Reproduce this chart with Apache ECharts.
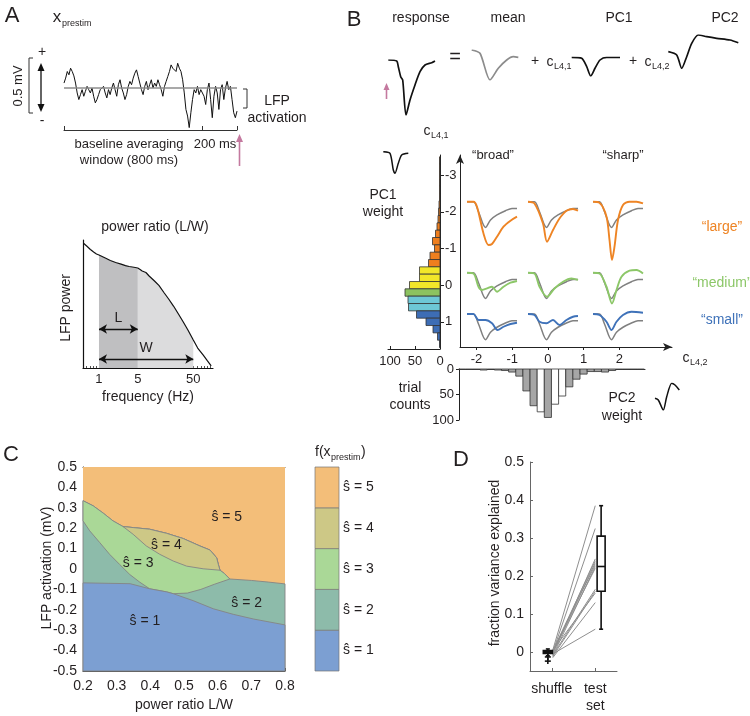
<!DOCTYPE html>
<html>
<head>
<meta charset="utf-8">
<script src="https://cdn.jsdelivr.net/npm/echarts@6/dist/echarts.min.js"></script>
<style>html,body{margin:0;padding:0;background:#fff;}#chart{width:750px;height:716px;}</style>
</head>
<body>
<div id="chart"></div>
<script>
// ================= DATA =================
// Panel A: prestimulus LFP trace (mV relative to baseline), 1000 ms window
const traceMv = [0.045,0.09,0.15,0.12,0.18,0.15,0.11,0.045,-0.045,-0.105,-0.06,-0.015,-0.075,-0.03,
0.015,-0.015,-0.045,0,-0.075,-0.135,-0.105,-0.06,-0.015,-0.03,0.015,-0.045,-0.09,-0.015,
-0.06,0,0.045,-0.015,-0.075,0.03,0.075,0,-0.045,-0.105,-0.06,0.015,0.06,0.03,
0.09,0.135,0.165,0.105,0.045,-0.015,-0.06,0.015,0.06,-0.015,0.03,0.075,0,0.045,
0.015,0.075,0.03,-0.015,-0.075,0.015,0.06,0.105,0.15,0.21,0.18,0.195,0.15,0.225,
0.18,0.15,0.075,-0.045,-0.195,-0.255,-0.36,-0.225,-0.105,-0.015,-0.045,0.015,-0.06,-0.015,
0,-0.075,-0.15,-0.015,0.045,-0.105,-0.27,-0.075,0.015,-0.045,-0.195,-0.015,0.03,-0.105,0,0.06,-0.015,0.015,-0.105,-0.225,-0.27,-0.21];
const traceDurationMs = 1000;
const traceBracketMs = [0, 800, 1000];

// Panel A: LFP power spectrum
const specFreqHz = [0.52,0.6,0.7,0.8,0.9,1,1.3,1.6,2,2.5,3,3.5,4,4.5,5,5.5,6,7,8,10,12,15,18,22,27,33,40,50,60,75,90,105];
const specPower  = [0.977,0.953,0.926,0.906,0.891,0.883,0.859,0.84,0.824,0.812,0.80,0.793,0.789,0.785,0.781,0.770,0.758,0.746,0.719,0.680,0.645,0.586,0.539,0.484,0.422,0.359,0.297,0.219,0.156,0.102,0.055,0.016];
const bandL = [1, 5];
const bandW = [1, 50];
const specTickHz = [1, 5, 50];
const specMinorHz = [0.6,0.7,0.8,0.9,1,2,3,4,5,6,7,8,9,10,20,30,40,50,60,70,80,90,100];

// Panel B: waveforms (time, amplitude)
const respT = [0,8.4,10,12.4,14.4,17.7,21.7,26.7,31.7,36.7,43.4,46.7];
const respV = [0,-1,-6.7,-16.7,-20,-55,-40,-25,-11.7,-5,-2.7,-1];
const meanT = [0,8.3,18.3,26.6,35,41.6,46.6];
const meanV = [0,-3.3,-30,-18.3,-10,-6.7,-7.3];
const pc1T = [0,10,15,19,23.3,28.3,35,48.3];
const pc1V = [0,-1,-9.4,-18.7,-11,-2.7,0,0];
const pc2T = [0,8.4,13.4,18.4,23.4,30,38.4,48.4,61.7,70];
const pc2V = [0,-3.3,-16.6,-5,8.4,16.7,15,13.4,11.7,9];
const pc1IconT = [0,6.7,10,11.7,15,18.4,25];
const pc1IconV = [0,-1.6,-18.3,-21.6,-11.6,-3.3,-1.6];
const pc2IconT = [0,3.3,8.3,11.7,16.7,20,24.3];
const pc2IconV = [0,-1.7,-11.7,1.6,15,13.3,8.3];

// Panel B: PC1 weight histogram (c_L4,1)
const pc1Centers = [-3.4,-3.2,-3.0,-2.8,-2.6,-2.4,-2.2,-2.0,-1.8,-1.6,-1.4,-1.2,-1.0,-0.8,-0.6,-0.4,-0.2,0,0.2,0.4,0.6,0.8,1.0,1.2,1.4,1.6];
const pc1Counts  = [1,1,1,1,1,1,2,3,4,6,9,15,11,20,23,41,41,61,70,64,63,47,28,14,5,1];
const pc1Group   = [5,5,5,5,5,5,5,5,5,5,5,5,5,5,5,4,4,4,3,2,2,1,1,1,1,1];
const binWidth = 0.2;
// Panel B: PC2 weight histogram (c_L4,2)
const pc2Centers = [-2.4,-2.2,-2.0,-1.8,-1.6,-1.4,-1.2,-1.0,-0.8,-0.6,-0.4,-0.2,0,0.2,0.4,0.6,0.8,1.0,1.2,1.4,1.6,1.8,2.0,2.2,2.4,2.6];
const pc2Counts  = [1,1,1,2,1,2,3,6,14,43,72,84,95,69,53,35,20,10,5,5,6,3,1,1,1,1];
const pc2Open    = [0,0,0,0,0,0,0,0,0,0,0,1,0,1,1,0,0,0,0,0,0,0,0,0,0,0];
const axisTicksB = [-2,-1,0,1,2];
const axisTicksB1 = [-3,-2,-1,0,1];
const countTicks = [0,50,100];

// Panel B: example responses (t normalized 0..1, amplitude in units of mean peak)
const meanShape = [[0,0],[0.13,0],[0.23,-0.4],[0.37,-1.03],[0.47,-0.73],[0.6,-0.53],[0.77,-0.36],[0.9,-0.27],[1,-0.27]];
const largeRow  = [
  [[0,0],[0.13,0],[0.2,-0.2],[0.33,-1.27],[0.43,-1.73],[0.5,-1.69],[0.6,-1.4],[0.73,-1.0],[0.87,-0.76],[1,-0.6]],
  [[0,0],[0.13,-0.07],[0.3,-0.87],[0.38,-1.6],[0.5,-1.13],[0.63,-0.67],[0.77,-0.36],[0.9,-0.29],[1,-0.36]],
  [[0,0],[0.13,-0.04],[0.27,-0.6],[0.33,-1.53],[0.38,-2.33],[0.43,-1.8],[0.5,-0.73],[0.6,-0.13],[0.73,0],[0.87,0],[1,-0.07]]];
const mediumRow = [
  [[0,0],[0.13,-0.03],[0.23,-0.56],[0.3,-0.69],[0.4,-0.63],[0.5,-0.56],[0.6,-0.76],[0.73,-0.56],[0.87,-0.4],[1,-0.33]],
  [[0,0],[0.13,-0.03],[0.23,-0.56],[0.38,-0.96],[0.53,-0.63],[0.7,-0.36],[0.87,-0.23],[1,-0.29]],
  [[0,0],[0.13,-0.03],[0.27,-0.56],[0.38,-1.23],[0.47,-0.69],[0.57,-0.16],[0.73,0.08],[0.87,0.11],[1,-0.03]]];
const smallRow  = [
  [[0,0],[0.13,0],[0.23,-0.24],[0.37,-0.24],[0.5,-0.37],[0.61,-0.64],[0.73,-0.51],[0.87,-0.4],[1,-0.35]],
  [[0,0],[0.13,-0.04],[0.23,-0.31],[0.37,-0.37],[0.5,-0.24],[0.63,-0.44],[0.77,-0.24],[0.9,-0.11],[1,-0.08]],
  [[0,0],[0.13,-0.04],[0.27,-0.31],[0.37,-0.64],[0.47,-0.31],[0.6,-0.04],[0.77,0.09],[1,0.05]]];

// Panel C: decision regions (power ratio L/W, LFP activation mV)
const cTopLeft   = [[0.2,0.335],[0.23,0.31],[0.26,0.274],[0.289,0.236],[0.319,0.208]];
const cS4Top     = [[0.319,0.208],[0.349,0.203],[0.398,0.195],[0.448,0.175],[0.498,0.149],[0.547,0.113],[0.577,0.093],[0.597,0.055],[0.602,0.022],[0.607,-0.006]];
const cS4Bottom  = [[0.319,0.208],[0.349,0.17],[0.388,0.113],[0.428,0.072],[0.468,0.039],[0.508,0.014],[0.557,0.001],[0.607,-0.006]];
const cS3Tip     = [[0.607,-0.006],[0.62,-0.022],[0.636,-0.049]];
const cS2RightTop= [[0.636,-0.049],[0.7,-0.056],[0.75,-0.064],[0.8,-0.073]];
const cS32Right  = [[0.636,-0.049],[0.59,-0.075],[0.55,-0.1],[0.51,-0.118],[0.468,-0.121]];
const cS1Top     = [[0.2,-0.068],[0.34,-0.072],[0.398,-0.097],[0.448,-0.112],[0.468,-0.121],[0.527,-0.155],[0.587,-0.195],[0.646,-0.222],[0.706,-0.245],[0.8,-0.274]];
const cS32Left   = [[0.2,0.236],[0.22,0.187],[0.25,0.129],[0.279,0.072],[0.309,0.022],[0.339,-0.027],[0.369,-0.065],[0.398,-0.097]];
const cLabels = ['ŝ = 5','ŝ = 4','ŝ = 3','ŝ = 2','ŝ = 1'];
const cLabelX = [0.627,0.448,0.364,0.686,0.384];
const cLabelY = [0.253,0.116,0.027,-0.167,-0.258];
const sLevels = [1,2,3,4,5];

// Panel D: fraction variance explained
const dCategories = ['shuffle','test\nset'];
const dCategoryX = [1,3];
const shuffleVals = [0.005,0,-0.005,0.003,-0.002,0.002,-0.01,0,-0.008,-0.012,0.004,-0.015,-0.005];
const testVals    = [0.385,0.325,0.245,0.24,0.235,0.23,0.225,0.22,0.165,0.16,0.155,0.13,0.06];
const testBox     = [0.06,0.16,0.225,0.305,0.385];
const shuffleBox  = [-0.01,-0.004,0,0.004,0.008];
const shuffleOutliers = [-0.013,-0.024];

// ================= STYLE =================
const FONT = '"Liberation Sans", Arial, Helvetica, sans-serif';
const INK = '#231f20';
const groupColor = {5:'#EF7F1E',4:'#F2E629',3:'#8CC260',2:'#6DC7D6',1:'#3D6DB5'};
const regionColor = {5:'#F3BE79',4:'#CDC886',3:'#AAD897',2:'#8DBBAA',1:'#7C9FD2'};
const ORANGE='#EE8424', GREEN='#8CC768', BLUE='#3F72B9', PINK='#C4799F';

const grids=[], xAxes=[], yAxes=[], series=[], graphics=[];
function fixAxis(a){a.splitLine={show:false};a.axisLine=Object.assign({onZero:false},a.axisLine||{});return a;}
function addGrid(g,x,y){const gi=grids.length;grids.push(g);
  xAxes.push(fixAxis(Object.assign({gridIndex:gi,type:'value'},x)));
  yAxes.push(fixAxis(Object.assign({gridIndex:gi,type:'value'},y)));
  return {g:gi,xAxisIndex:xAxes.length-1,yAxisIndex:yAxes.length-1};}
function on(ax,s){s.xAxisIndex=ax.xAxisIndex;s.yAxisIndex=ax.yAxisIndex;return s;}
function lab(size,extra){return Object.assign({color:INK,fontFamily:FONT,fontSize:size},extra||{});}
function T(x,y,text,size,o){o=o||{};const al=o.align||'center';
  return {type:'text',x:x,y:y,rotation:o.rot||0,silent:true,z:50,
   style:{text:text,fill:o.color||INK,font:(o.weight||'normal')+' '+size+'px '+FONT,textAlign:al,align:al,textVerticalAlign:'middle',verticalAlign:'middle'}};}
function L(pts,color,w){return {type:'polyline',silent:true,z:50,shape:{points:pts},style:{stroke:color||INK,lineWidth:w||1,fill:null}};}
function P(pts,color){return {type:'polygon',silent:true,z:50,shape:{points:pts},style:{fill:color||INK}};}

// ---------- Panel A trace ----------
(function(){
  const base=88, pxPerMv=110, top=55, bottom=130;
  const ax=addGrid({left:64,top:top,width:173,height:bottom-top},
    {min:0,max:traceDurationMs,axisLine:{show:true,lineStyle:{color:'#333',width:1}},
     axisTick:{show:true,inside:true,length:4,customValues:traceBracketMs,lineStyle:{color:'#333'}},axisLabel:{show:false}},
    {min:-(bottom-base)/pxPerMv,max:(base-top)/pxPerMv,show:false});
  const n=traceMv.length;
  series.push(on(ax,{type:'line',symbol:'none',silent:true,
    data:traceMv.map((v,k)=>[k*traceDurationMs/(n-1),v]),lineStyle:{color:'#111',width:1},
    markLine:{silent:true,symbol:'none',label:{show:false},lineStyle:{color:'#8c8c8c',width:1.6,type:'solid'},data:[{yAxis:0}]}}));
})();
// ---------- Panel A spectrum ----------
(function(){
  const lg=Math.log10;
  const ax=addGrid({left:83,top:240,width:130,height:128},
    {min:-0.288,max:2.054,axisLine:{show:true,lineStyle:{color:'#111',width:1.2}},
     axisTick:{show:true,inside:true,length:2,customValues:specMinorHz.map(lg),lineStyle:{color:'#555'}},
     axisLabel:lab(13,{customValues:specTickHz.map(lg),margin:5,formatter:v=>String(Math.round(Math.pow(10,v)))})},
    {min:0,max:1,axisLine:{show:true,lineStyle:{color:'#111',width:1.2}},axisTick:{show:false},axisLabel:{show:false}});
  const pts=specFreqHz.map((f,k)=>[lg(f),specPower[k]]);
  const inBand=(b)=>pts.filter(p=>p[0]>=lg(b[0])-1e-9&&p[0]<=lg(b[1])+1e-9);
  series.push(on(ax,{type:'line',symbol:'none',silent:true,data:inBand([bandL[1],bandW[1]]),
    lineStyle:{width:0},areaStyle:{color:'#DCDCDD',opacity:1,origin:'start'},z:1}));
  series.push(on(ax,{type:'line',symbol:'none',silent:true,data:inBand(bandL),
    lineStyle:{width:0},areaStyle:{color:'#BFBFC1',opacity:1,origin:'start'},z:1}));
  series.push(on(ax,{type:'line',symbol:'none',silent:true,data:pts,
    lineStyle:{color:'#111',width:1.2},z:3,
    markLine:{silent:true,symbol:['arrow','arrow'],symbolSize:[7,8],lineStyle:{color:'#111',width:1.3,type:'solid'},
      label:{show:true,position:'insideMiddleTop',distance:4,color:INK,fontFamily:FONT,fontSize:14},
      data:[[{coord:[lg(bandL[0]),0.305],label:{formatter:'L'}},{coord:[lg(bandL[1]),0.305]}],
            [{coord:[lg(bandW[0]),0.07],label:{formatter:'W'}},{coord:[lg(bandW[1]),0.07]}]]}}));
})();

// ---------- Panel B waveforms ----------
function waveGrid(x0,y0,Tt,V,color,lw){
  const tMax=Math.max.apply(null,Tt), vMax=Math.max(0,Math.max.apply(null,V)), vMin=Math.min.apply(null,V);
  const ax=addGrid({left:x0,top:y0-vMax,width:tMax,height:vMax-vMin},{min:0,max:tMax,show:false},{min:vMin,max:vMax,show:false});
  series.push(on(ax,{type:'line',symbol:'none',silent:true,smooth:0.25,
    data:Tt.map((t,k)=>[t,V[k]]),lineStyle:{color:color,width:lw}}));
}
waveGrid(388.3,60,respT,respV,'#111',1.7);
waveGrid(471.7,50,meanT,meanV,'#8c8c8c',1.7);
waveGrid(571.7,57.3,pc1T,pc1V,'#111',1.7);
waveGrid(668.3,51.7,pc2T,pc2V,'#111',1.7);
waveGrid(383.3,151.7,pc1IconT,pc1IconV,'#111',1.5);
waveGrid(655,398.3,pc2IconT,pc2IconV,'#111',1.5);

// ---------- Panel B PC1 histogram ----------
(function(){
  const ax=addGrid({left:388,top:155,width:52,height:194},
    {min:0,max:104,inverse:true,axisLine:{show:true,lineStyle:{color:'#222'}},
     axisTick:{show:true,inside:true,length:3,customValues:countTicks,lineStyle:{color:'#222'}},
     axisLabel:lab(13,{customValues:countTicks,margin:6})},
    {min:-3.55,max:1.74,inverse:true,position:'right',axisLine:{show:true,lineStyle:{color:'#222'}},
     axisTick:{show:true,length:4,customValues:axisTicksB1,lineStyle:{color:'#222'}},
     axisLabel:lab(13,{customValues:axisTicksB1,margin:5})});
  series.push(on(ax,{type:'custom',silent:true,
    data:pc1Centers.map((c,k)=>[pc1Counts[k],c]),
    renderItem:(p,api)=>{const n=api.value(0),c=api.value(1);
      const a=api.coord([0,c-binWidth/2]),b=api.coord([n,c+binWidth/2]);
      return {type:'rect',shape:{x:Math.min(a[0],b[0]),y:Math.min(a[1],b[1]),width:Math.abs(b[0]-a[0]),height:Math.abs(b[1]-a[1])},
        style:{fill:groupColor[pc1Group[p.dataIndex]],stroke:'#333',lineWidth:0.8}};}}));
})();
// ---------- Panel B main axes ----------
addGrid({left:460,top:155,width:212,height:192},
  {min:-2.46,max:3.47,axisLine:{show:true,symbol:['none','arrow'],symbolSize:[6,9],lineStyle:{color:'#222'}},
   axisTick:{show:true,length:3,customValues:axisTicksB,lineStyle:{color:'#222'}},
   axisLabel:lab(13,{customValues:axisTicksB,margin:6})},
  {min:0,max:1,axisLine:{show:true,symbol:['none','arrow'],symbolSize:[6,9],lineStyle:{color:'#222'}},axisTick:{show:false},axisLabel:{show:false}});
// ---------- Panel B example grids ----------
(function(){
  const rows=[{base:201.7,min:-2.45,max:0.15,curves:largeRow,color:ORANGE},
              {base:272.7,min:-1.3,max:0.3,curves:mediumRow,color:GREEN},
              {base:314,min:-1.2,max:0.25,curves:smallRow,color:BLUE}];
  const colLeft=[467,528,593], ppu=25;
  rows.forEach(r=>{r.curves.forEach((cv,ci)=>{
    const ax=addGrid({left:colLeft[ci],top:r.base-r.max*ppu,width:50,height:(r.max-r.min)*ppu},
      {min:0,max:1,show:false},{min:r.min,max:r.max,show:false});
    series.push(on(ax,{type:'line',symbol:'none',silent:true,smooth:0.3,data:meanShape,lineStyle:{color:'#808080',width:1.5},z:2}));
    series.push(on(ax,{type:'line',symbol:'none',silent:true,smooth:0.3,data:cv,lineStyle:{color:r.color,width:1.9},z:3}));
  });});
})();
// ---------- Panel B PC2 histogram ----------
(function(){
  const ax=addGrid({left:459,top:369,width:186,height:51},
    {min:-2.49,max:2.72,position:'top',axisLine:{show:true,lineStyle:{color:'#222'}},axisTick:{show:false},axisLabel:{show:false}},
    {min:0,max:100,inverse:true,axisLine:{show:true,lineStyle:{color:'#222'}},
     axisTick:{show:true,length:3,customValues:countTicks,lineStyle:{color:'#222'}},
     axisLabel:lab(13,{customValues:countTicks,margin:5})});
  series.push(on(ax,{type:'custom',silent:true,
    data:pc2Centers.map((c,k)=>[c,pc2Counts[k]]),
    renderItem:(p,api)=>{const c=api.value(0),n=api.value(1);
      const a=api.coord([c-binWidth/2,0]),b=api.coord([c+binWidth/2,n]);
      return {type:'rect',shape:{x:Math.min(a[0],b[0]),y:Math.min(a[1],b[1]),width:Math.abs(b[0]-a[0]),height:Math.abs(b[1]-a[1])},
        style:{fill:pc2Open[p.dataIndex]?'#ffffff':'#A6A6A6',stroke:'#333',lineWidth:0.8}};}}));
})();

// ---------- Panel C ----------
(function(){
  const fmt=v=>Math.abs(v)<1e-9?'0':v.toFixed(1);
  const ax=addGrid({left:83,top:467,width:202,height:204},
    {min:0.2,max:0.8,interval:0.1,axisLine:{show:true,lineStyle:{color:'#222'}},
     axisTick:{show:true,inside:true,length:3,lineStyle:{color:'#222'}},axisLabel:lab(14,{margin:8,formatter:fmt})},
    {min:-0.5,max:0.5,interval:0.1,axisLine:{show:true,lineStyle:{color:'#222'}},
     axisTick:{show:true,inside:true,length:3,lineStyle:{color:'#222'}},axisLabel:lab(14,{margin:6,formatter:fmt})});
  const rev=a=>a.slice().reverse();
  const polys=[
    {lv:5,pts:[[0.2,0.5],[0.8,0.5],[0.8,-0.5],[0.2,-0.5]],stroke:false},
    {lv:2,pts:cTopLeft.concat(cS4Top.slice(1),cS3Tip.slice(1),cS2RightTop.slice(1),[[0.8,-0.5],[0.2,-0.5]]),stroke:true},
    {lv:3,pts:cTopLeft.concat(cS4Top.slice(1),cS3Tip.slice(1),cS32Right.slice(1),[[0.448,-0.112]],rev(cS32Left)),stroke:true},
    {lv:4,pts:cS4Top.concat(rev(cS4Bottom).slice(1)),stroke:true},
    {lv:1,pts:cS1Top.concat([[0.8,-0.5],[0.2,-0.5]]),stroke:true}];
  series.push(on(ax,{type:'custom',silent:true,z:1,
    data:polys.map(()=>[0.5,0]),
    renderItem:(p,api)=>{const pg=polys[p.dataIndex];
      return {type:'polygon',shape:{points:pg.pts.map(q=>api.coord(q))},
        style:{fill:regionColor[pg.lv],stroke:pg.stroke?'#858585':null,lineWidth:0.9}};}}));
  series.push(on(ax,{type:'custom',silent:true,z:5,
    data:cLabelX.map((x,k)=>[x,cLabelY[k]]),
    renderItem:(p,api)=>{const c=api.coord([api.value(0),api.value(1)]);
      return {type:'text',x:c[0],y:c[1],style:{text:cLabels[p.dataIndex],fill:INK,font:'14px '+FONT,textAlign:'center',align:'center',textVerticalAlign:'middle',verticalAlign:'middle'}};}}));
  // top frame line
  xAxes.push(fixAxis({gridIndex:ax.g,type:'value',min:0,max:1,position:'top',axisLine:{show:true,lineStyle:{color:'#444'}},axisTick:{show:false},axisLabel:{show:false}}));
})();
// colorbar
(function(){
  const ax=addGrid({left:315,top:467,width:24,height:204},{min:0,max:1,show:false},{min:0,max:5,show:false});
  series.push(on(ax,{type:'custom',silent:true,
    data:sLevels.map(s=>[0,s]),
    renderItem:(p,api)=>{const s=api.value(1);const a=api.coord([0,s-1]),b=api.coord([1,s]);
      return {type:'group',children:[
        {type:'rect',shape:{x:a[0],y:b[1],width:b[0]-a[0],height:a[1]-b[1]},style:{fill:regionColor[s],stroke:'#777',lineWidth:0.7}},
        {type:'text',x:b[0]+4,y:(a[1]+b[1])/2,style:{text:'ŝ = '+s,fill:INK,font:'14px '+FONT,textAlign:'left',align:'left',textVerticalAlign:'middle',verticalAlign:'middle'}}]};}}));
})();

// ---------- Panel D ----------
(function(){
  const yt=[0,0.1,0.2,0.3,0.4,0.5];
  const ax=addGrid({left:530,top:462,width:87,height:209},
    {min:0,max:4,axisLine:{show:true,lineStyle:{color:'#666'}},
     axisTick:{show:true,inside:true,length:3,customValues:dCategoryX,lineStyle:{color:'#666'}},
     axisLabel:lab(14,{customValues:dCategoryX,margin:10,lineHeight:17,formatter:v=>dCategories[dCategoryX.indexOf(v)]})},
    {min:-0.05,max:0.5,axisLine:{show:true,lineStyle:{color:'#666'}},
     axisTick:{show:true,inside:true,length:3,customValues:yt,lineStyle:{color:'#666'}},
     axisLabel:lab(14,{customValues:yt,margin:6,formatter:v=>Math.abs(v)<1e-9?'0':v.toFixed(1)})});
  series.push(on(ax,{type:'custom',silent:true,z:2,
    data:shuffleVals.map((s,k)=>[s,testVals[k]]),
    renderItem:(p,api)=>{const a=api.coord([dCategoryX[0],api.value(0)]),b=api.coord([dCategoryX[1],api.value(1)]);
      return {type:'line',shape:{x1:a[0]+1,y1:a[1],x2:b[0],y2:b[1]},style:{stroke:'#8f8f8f',lineWidth:1}};}}));
  const boxes=[{x:dCategoryX[0]-0.18,v:shuffleBox,hw:4.5,fill:'#111'},{x:dCategoryX[1]+0.27,v:testBox,hw:4,fill:'#fff'}];
  series.push(on(ax,{type:'custom',silent:true,z:4,
    data:boxes.map(b=>[b.x,b.v[2]]),
    renderItem:(p,api)=>{const b=boxes[p.dataIndex];const c=q=>api.coord([b.x,q]);
      const lo=c(b.v[0]),q1=c(b.v[1]),md=c(b.v[2]),q3=c(b.v[3]),hi=c(b.v[4]);const x=lo[0],h=b.hw;
      const st={stroke:'#111',lineWidth:1.6};
      return {type:'group',children:[
        {type:'line',shape:{x1:x,y1:hi[1],x2:x,y2:q3[1]},style:st},
        {type:'line',shape:{x1:x,y1:q1[1],x2:x,y2:lo[1]},style:st},
        {type:'line',shape:{x1:x-2,y1:hi[1],x2:x+2,y2:hi[1]},style:st},
        {type:'line',shape:{x1:x-2,y1:lo[1],x2:x+2,y2:lo[1]},style:st},
        {type:'rect',shape:{x:x-h,y:q3[1],width:2*h,height:Math.max(q1[1]-q3[1],3)},style:{fill:b.fill,stroke:'#111',lineWidth:1.6}},
        {type:'line',shape:{x1:x-h,y1:md[1],x2:x+h,y2:md[1]},style:st}]};}}));
  series.push(on(ax,{type:'custom',silent:true,z:4,
    data:shuffleOutliers.map(v=>[dCategoryX[0]-0.18,v]),
    renderItem:(p,api)=>{const c=api.coord([api.value(0),api.value(1)]);const st={stroke:'#111',lineWidth:1.6};
      return {type:'group',children:[{type:'line',shape:{x1:c[0]-3,y1:c[1],x2:c[0]+3,y2:c[1]},style:st},{type:'line',shape:{x1:c[0],y1:c[1]-3,x2:c[0],y2:c[1]+3},style:st}]};}}));
})();

// ---------- Text and annotations ----------
graphics.push(
  // A
  T(12,16,'A',22), T(57,17,'x',17), T(62,24,'prestim',9,{align:'left'}),
  T(42,52,'+',14), T(42,121,'-',14), T(18,86,'0.5 mV',13,{rot:Math.PI/2}),
  L([[33,58],[29,58],[29,113],[33,113]],'#333',1),
  L([[41,66],[41,109]],'#111',1.3), P([[37.5,71],[44.5,71],[41,63]],'#111'), P([[37.5,104],[44.5,104],[41,112]],'#111'),
  L([[243,89],[247,89],[247,108],[243,108]],'#333',1),
  T(277,101,'LFP',14), T(277,118,'activation',14),
  T(129,144,'baseline averaging',13), T(129,160,'window (800 ms)',13), T(215,144,'200 ms',13),
  L([[239.5,166],[239.5,140]],PINK,1.6), P([[236,142],[243,142],[239.5,134]],PINK),
  T(155,227,'power ratio (L/W)',14), T(66,308,'LFP power',14,{rot:Math.PI/2}), T(148,397,'frequency (Hz)',14),
  // B
  T(354,20,'B',22),
  T(421,18,'response',14), T(508,18,'mean',14), T(619,18,'PC1',14), T(725,18,'PC2',14),
  T(455,57,'=',20), T(535,61,'+',14), T(550,62,'c',14), T(554,67,'L4,1',9,{align:'left'}),
  T(633,61,'+',14), T(648,62,'c',14), T(652,67,'L4,2',9,{align:'left'}),
  L([[386.5,99],[386.5,88]],PINK,1.6), P([[383.5,90],[389.5,90],[386.5,83]],PINK),
  T(427,131,'c',14), T(431,136,'L4,1',9,{align:'left'}),
  T(383,195,'PC1',14), T(383,212,'weight',14),
  T(493,155,'“broad”',13), T(623,155,'“sharp”',13),
  T(722,227,'“large”',14,{color:ORANGE}), T(722,283,'“medium”',14,{color:GREEN}), T(722,320,'“small”',14,{color:BLUE}),
  T(686,358,'c',14), T(690,363,'L4,2',9,{align:'left'}),
  T(410,388,'trial',14), T(410,405,'counts',14),
  T(622,398,'PC2',14), T(622,416,'weight',14),
  // C
  T(11,455,'C',22), T(47,568,'LFP activation (mV)',14,{rot:Math.PI/2}), T(184,705,'power ratio L/W',14),
  T(315,452,'f(x',14,{align:'left'}), T(331,458,'prestim',9,{align:'left'}), T(361,452,')',14,{align:'left'}),
  // D
  T(461,460,'D',22), T(495,563,'fraction variance explained',14,{rot:Math.PI/2})
);

const chart = echarts.init(document.getElementById('chart'), null, {renderer:'canvas'});
chart.setOption({animation:false,backgroundColor:'#fff',textStyle:{fontFamily:FONT},
  grid:grids,xAxis:xAxes,yAxis:yAxes,series:series,graphic:{elements:graphics}});
</script>
</body>
</html>
